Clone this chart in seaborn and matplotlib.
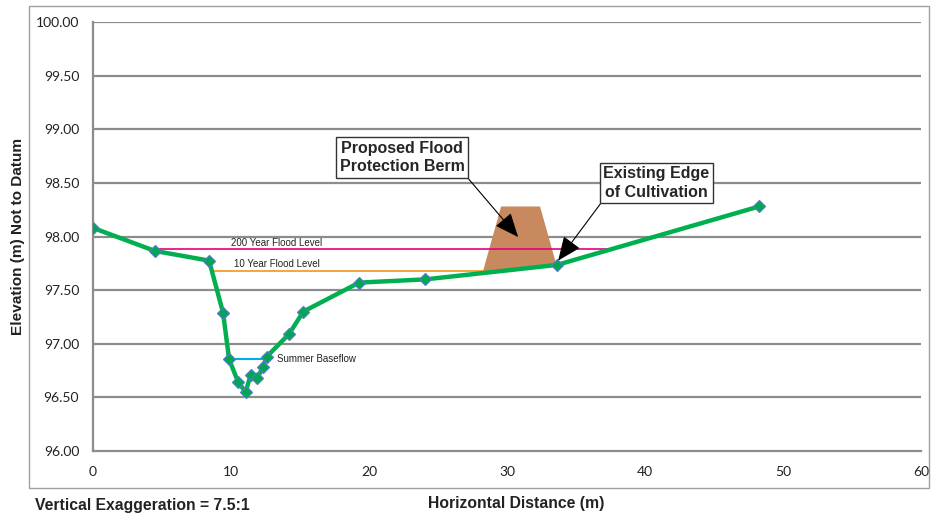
import matplotlib
matplotlib.use("Agg")
import matplotlib.pyplot as plt
from matplotlib.patches import Rectangle
import pandas as pd
import seaborn as sns

# Surveyed cross-section (station in m, elevation in m)
distance = [0.0, 4.49, 8.41, 9.42, 9.86, 10.52, 11.06, 11.42, 11.91, 12.30, 12.59,
            14.20, 15.24, 19.28, 24.06, 33.62, 48.26]
elevation = [98.08, 97.865, 97.775, 97.29, 96.855, 96.64, 96.55, 96.71, 96.68, 96.78,
             96.88, 97.09, 97.30, 97.57, 97.60, 97.735, 98.28]

# Water levels: (start, end, elevation)
flood_200 = [4.49, 37.25, 97.88]
flood_10 = [8.70, 28.26, 97.68]
baseflow = [9.86, 12.59, 96.855]

# Proposed berm outline (x, y)
berm_x = [28.24, 29.57, 32.39, 33.60]
berm_y = [97.67, 98.28, 98.28, 97.725]

yticks = [96.0, 96.5, 97.0, 97.5, 98.0, 98.5, 99.0, 99.5, 100.0]
xticks = [0, 10, 20, 30, 40, 50, 60]

sns.set_style("white")
plt.rcParams["font.family"] = ["Liberation Sans", "DejaVu Sans"]

fig = plt.figure(figsize=(9.34, 5.17), dpi=100)
ax = fig.add_axes([0.0996, 0.1277, 0.8866, 0.8297])

grid_c = "#8c8c8c"
for yv in yticks[1:]:
    ax.axhline(yv, color=grid_c, lw=1.6, zorder=0)

ax.fill(berm_x, berm_y, color="#c8895e", zorder=2, lw=0)

ax.plot(flood_200[:2], [flood_200[2]] * 2, color="#e6007e", lw=1.2, zorder=3)
ax.plot(flood_10[:2], [flood_10[2]] * 2, color="#f7931e", lw=1.2, zorder=3)
ax.plot(baseflow[:2], [baseflow[2]] * 2, color="#00aeef", lw=1.5, zorder=3)

df = pd.DataFrame({"Distance": distance, "Elevation": elevation})
sns.lineplot(data=df, x="Distance", y="Elevation", ax=ax, color="#00b050", lw=3.2,
             marker="D", markersize=6.5, markerfacecolor="#00a651",
             markeredgecolor="#4f81bd", markeredgewidth=0.9, zorder=4, sort=False)

ax.text(13.3, flood_200[2] + 0.015, "200 Year Flood Level", fontsize=7, color="#222222",
        ha="center", va="bottom", zorder=5)
ax.text(13.3, flood_10[2] + 0.015, "10 Year Flood Level", fontsize=7, color="#222222",
        ha="center", va="bottom", zorder=5)
ax.text(13.35, baseflow[2], "Summer Baseflow", fontsize=7, color="#222222",
        ha="left", va="center", zorder=5)

box = dict(boxstyle="square,pad=0.22", fc="white", ec="#333333", lw=1.0)
arrow = dict(arrowstyle="-|>,head_length=1.3,head_width=0.55", color="black", lw=0.8,
             shrinkA=0, shrinkB=0)
ax.annotate("Proposed Flood\nProtection Berm", xy=(30.8, 97.995), xytext=(22.4, 98.737),
            fontsize=11.5, fontweight="bold", ha="center", va="center", linespacing=1.3,
            bbox=box, arrowprops=dict(arrow, relpos=(1.0, 0.0)), zorder=6)
ax.annotate("Existing Edge\nof Cultivation", xy=(33.7, 97.775), xytext=(40.83, 98.50),
            fontsize=11.5, fontweight="bold", ha="center", va="center", linespacing=1.3,
            bbox=box, arrowprops=dict(arrow, relpos=(0.0, 0.0)), zorder=6)

ax.set_xlim(0, 60)
ax.set_ylim(96.0, 100.0)
ax.set_xticks(xticks)
ax.set_yticks(yticks)
ax.set_yticklabels([f"{v:.2f}" for v in yticks], fontfamily="Lato", fontsize=10, color="#222222")
ax.set_xticklabels([str(v) for v in xticks], fontfamily="Lato", fontsize=10, color="#222222")
ax.tick_params(axis="both", length=5, width=1.2, color=grid_c, direction="out", pad=5)
ax.tick_params(axis="x", pad=6)
for side in ("top", "right"):
    ax.spines[side].set_visible(False)
for side in ("left", "bottom"):
    ax.spines[side].set_color(grid_c)
    ax.spines[side].set_linewidth(1.6)

ax.set_xlabel("")
ax.set_ylabel("")
fig.text(0.553, 0.027, "Horizontal Distance (m)", fontsize=11.3, fontweight="bold",
         ha="center", va="center", color="#222222")
fig.text(0.019, 0.542, "Elevation (m) Not to Datum", fontsize=11.1, fontweight="bold",
         rotation=90, ha="center", va="center", color="#222222")
fig.text(0.037, 0.023, "Vertical Exaggeration = 7.5:1", fontsize=11.3, fontweight="bold",
         ha="left", va="center", color="#222222")

fig.add_artist(Rectangle((29 / 934, 1 - 488 / 517), (929 - 29) / 934, (488 - 6) / 517,
                         transform=fig.transFigure, fill=False, ec="#a0a0a0", lw=1.0))

fig.savefig("out.png", dpi=100)
